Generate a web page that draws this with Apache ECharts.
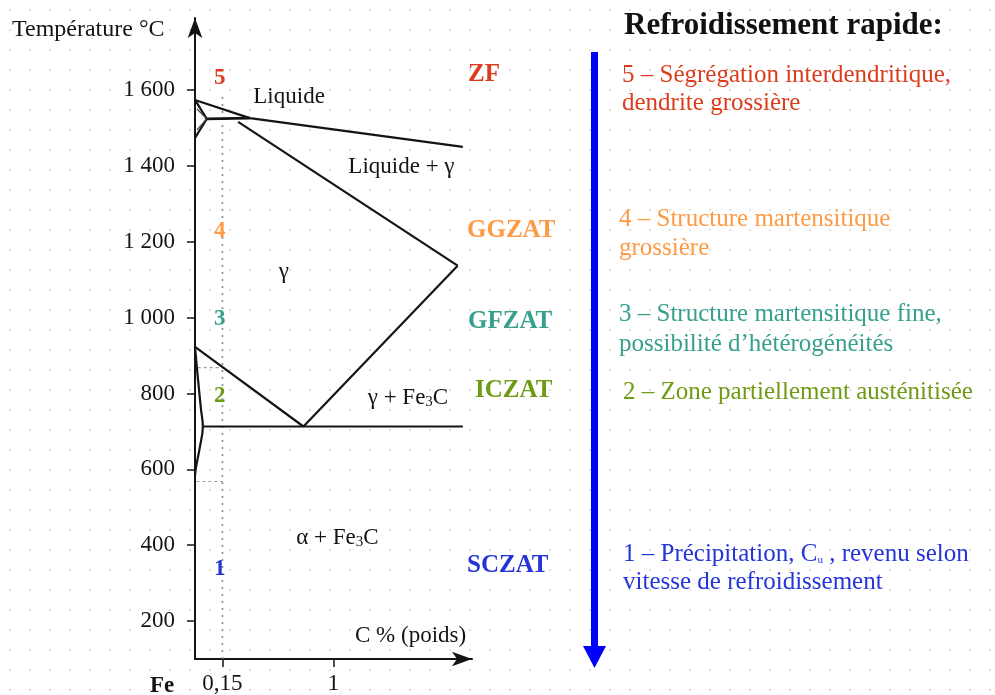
<!DOCTYPE html>
<html>
<head>
<meta charset="UTF-8">
<title>Diagramme Fe-C - refroidissement rapide</title>
<script src="https://cdn.jsdelivr.net/npm/echarts@6/dist/echarts.min.js"></script>
<style>
  html, body { margin: 0; padding: 0; background: #fff; }
  #main {
    width: 995px; height: 695px;
    background-image: radial-gradient(#e0e0e0 0.9px, transparent 1.3px);
    background-size: 20px 20px;
  }
</style>
</head>
<body>
<div id="main"></div>
<script type="text/javascript">
// axes (C % en poids, temperature en degres C)
var cMin = -0.06, cMax = 2.06;
var tMin = 100, tMax = 1790;
var xTicks = [0.15, 1];
var yTicks = [200, 400, 600, 800, 1000, 1200, 1400, 1600];

// lignes du diagramme (schematique)
var liquidus     = [[-0.06, 1574], [0.36, 1526], [1.99, 1450]];
var deltaTop     = [[-0.06, 1574], [0.03, 1524]];
var deltaBottom  = [[-0.06, 1474], [0.03, 1524]];
var deltaInner   = [[-0.045, 1550], [0.03, 1524], [-0.045, 1495]];
var peritectic   = [[0.03, 1524], [0.36, 1526]];
var gammaSolidus = [[0.27, 1516], [1.95, 1137]];
var acmLine      = [[1.95, 1137], [0.77, 713]];
var a3Line       = [[-0.06, 923], [0.77, 713]];
var eutectoid    = [[0.0, 713], [1.99, 713]];
var alphaLimit   = [[-0.06, 923], [-0.037, 837], [-0.014, 758], [0.0, 713], [-0.022, 660], [-0.05, 610], [-0.06, 585]];

// pointilles a 0,15 % C
var steelLine = [[0.15, 1582], [0.15, 100]];
var a3Mark    = [[-0.04, 868], [0.15, 868]];
var lowMark   = [[-0.05, 568], [0.15, 568]];

// noms des domaines
var phaseNames = ['{t|Liquide}', '{t|Liquide + γ}', '{t|γ}', '{t|γ + Fe}{s|3}{t|C}', '{t|α + Fe}{s|3}{t|C}', '{t|C % (poids)}'];
var phaseC     = [0.66, 1.52, 0.62, 1.57, 1.03, 1.59];
var phaseT     = [1582, 1398, 1121, 790, 421, 163];

// zones
var zoneNums   = ['5', '4', '3', '2', '1'];
var zoneT      = [1632, 1227, 995, 792, 337];
var zoneColors = ['#dc3c1c', '#ff9a44', '#36a08c', '#6f9a14', '#2434d8'];
var zoneCodes  = ['ZF', 'GGZAT', 'GFZAT', 'ICZAT', 'SCZAT'];
var zoneDesc   = [
  ['5 – Ségrégation interdendritique,', 'dendrite grossière'],
  ['4 – Structure martensitique', 'grossière'],
  ['3 – Structure martensitique fine,', 'possibilité d’hétérogénéités'],
  ['2 – Zone partiellement austénitisée'],
  ['1 – Précipitation, C{s|u} , revenu selon', 'vitesse de refroidissement']
];

var serif = '"Liberation Serif", "DejaVu Serif", serif';
var ink = '#141414';
var myChart = echarts.init(document.getElementById('main'));

function seg(data, opts) {
  opts = opts || {};
  return {
    type: 'line', data: data, symbol: 'none', silent: true,
    smooth: opts.smooth || false, z: opts.z || 3,
    lineStyle: { color: opts.color || ink, width: opts.width || 2.2, type: opts.type || 'solid' }
  };
}

var series = [
  seg(steelLine, { color: '#8a8a8a', width: 1.6, type: [2, 5], z: 2 }),
  seg(a3Mark, { color: '#9a9a9a', width: 1.2, type: [3, 3], z: 2 }),
  seg(lowMark, { color: '#9a9a9a', width: 1.2, type: [3, 3], z: 2 }),
  seg(liquidus),
  seg(deltaTop),
  seg(deltaBottom),
  seg(deltaInner, { width: 1.3, color: '#444' }),
  seg(peritectic, { width: 2.6 }),
  seg(gammaSolidus),
  seg(acmLine),
  seg(a3Line),
  seg(eutectoid, { width: 1.8 }),
  seg(alphaLimit, { smooth: 0.4 })
];

// etiquettes des domaines
series.push({
  type: 'scatter', symbolSize: 0, silent: true, z: 5,
  itemStyle: { color: 'transparent', opacity: 1 },
  data: phaseC.map(function (c, i) { return { value: [c, phaseT[i]], label: { formatter: phaseNames[i] } }; }),
  label: {
    show: true, position: 'inside', textBorderWidth: 0, color: ink,
    rich: {
      t: { fontFamily: serif, fontSize: 23, color: ink, verticalAlign: 'bottom', lineHeight: 24, textBorderWidth: 0 },
      s: { fontFamily: serif, fontSize: 15, color: ink, verticalAlign: 'bottom', lineHeight: 17, textBorderWidth: 0 }
    }
  }
});

// numeros des zones sur la ligne 0,15 %
series.push({
  type: 'scatter', symbolSize: 0, silent: true, z: 5,
  itemStyle: { color: 'transparent', opacity: 1 },
  data: zoneNums.map(function (n, i) {
    return { value: [0.13, zoneT[i]], label: { formatter: n, color: zoneColors[i] } };
  }),
  label: { show: true, position: 'inside', textBorderWidth: 0, fontFamily: serif, fontSize: 23, fontWeight: 'bold' }
});

// texte a droite
var graphics = [];
graphics.push({
  type: 'text', x: 624, y: 26,
  style: { text: 'Refroidissement rapide:', font: 'bold 31px ' + serif, fill: '#111', textVerticalAlign: 'middle' }
});
graphics.push({
  type: 'text', x: 12, y: 30,
  style: { text: 'Température °C', font: '24px ' + serif, fill: ink, textVerticalAlign: 'middle' }
});
graphics.push({
  type: 'text', x: 150, y: 686,
  style: { text: 'Fe', font: 'bold 23px ' + serif, fill: ink, textVerticalAlign: 'middle' }
});

var codeX = [468, 467, 468, 475, 467];
var codeY = [75, 231, 322, 391, 566];
var descY = [[75, 103], [219, 248], [314, 344], [392], [554, 582]];
var descX = [622, 619, 619, 623, 623];
zoneCodes.forEach(function (code, i) {
  graphics.push({
    type: 'text', x: codeX[i], y: codeY[i],
    style: { text: code, font: 'bold 25px ' + serif, fill: zoneColors[i], textVerticalAlign: 'middle' }
  });
  zoneDesc[i].forEach(function (line, j) {
    graphics.push({
      type: 'text', x: descX[i], y: descY[i][j],
      style: {
        text: line, font: '25px ' + serif, fill: zoneColors[i], textVerticalAlign: 'middle',
        rich: { s: { fontSize: 11, fontFamily: serif, fill: zoneColors[i], padding: [12, 0, 0, 0] } }
      }
    });
  });
});

// fleche bleue
graphics.push({
  type: 'group',
  children: [
    { type: 'rect', shape: { x: 591, y: 52, width: 7, height: 598 }, style: { fill: '#0000ff' } },
    { type: 'polygon', shape: { points: [[583, 646], [606, 646], [594.5, 668]] }, style: { fill: '#0000ff' } }
  ]
});

var option = {
  animation: false,
  grid: { left: 195, right: 523, top: 18, bottom: 35, containLabel: false },
  xAxis: {
    type: 'value', min: cMin, max: cMax,
    splitLine: { show: false },
    axisLine: { onZero: false, symbol: ['none', 'arrow'], symbolSize: [11, 20], lineStyle: { color: ink, width: 2 } },
    axisTick: { customValues: xTicks, length: 8, lineStyle: { color: ink, width: 1.5 } },
    axisLabel: {
      customValues: xTicks, margin: 13, fontFamily: serif, fontSize: 23, color: ink,
      formatter: function (v) { return v === 1 ? '1' : String(v).replace('.', ','); }
    }
  },
  yAxis: {
    type: 'value', min: tMin, max: tMax,
    splitLine: { show: false },
    axisLine: { onZero: false, symbol: ['none', 'arrow'], symbolSize: [11, 20], lineStyle: { color: ink, width: 2 } },
    axisTick: { customValues: yTicks, length: 8, lineStyle: { color: ink, width: 1.5 } },
    axisLabel: {
      customValues: yTicks, margin: 20, fontFamily: serif, fontSize: 23, color: ink,
      formatter: function (v) { return v >= 1000 ? '1 ' + String(v).slice(1) : String(v); }
    }
  },
  series: series,
  graphic: graphics
};

option && myChart.setOption(option);
</script>
</body>
</html>
